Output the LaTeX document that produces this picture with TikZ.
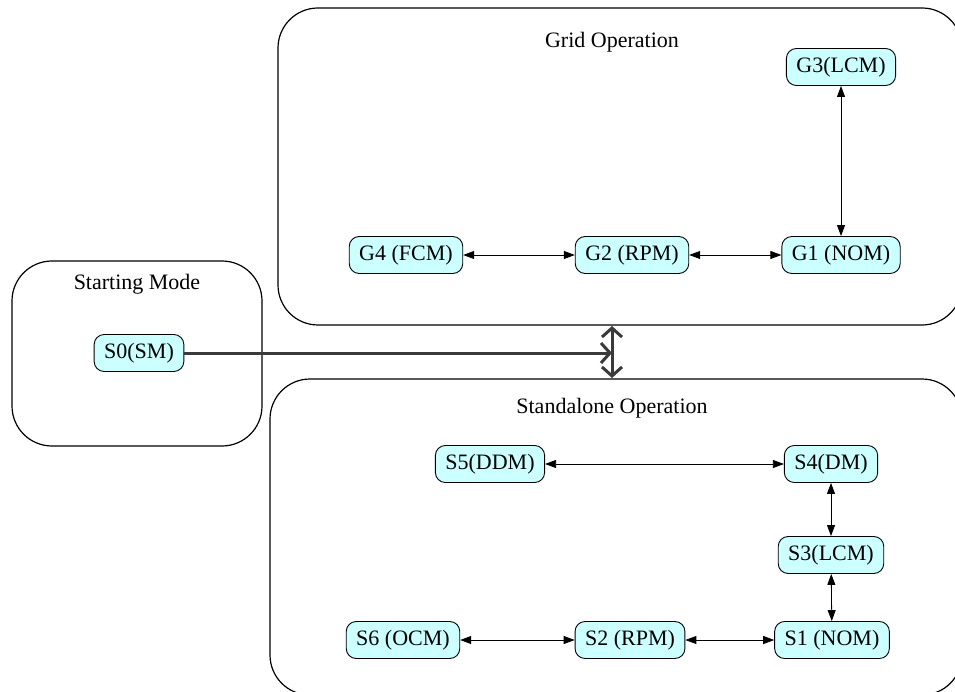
\documentclass[tikz,border=0pt]{standalone}
\usepackage{fontspec}
\setmainfont{Liberation Serif}
\usetikzlibrary{arrows.meta}
\definecolor{modefill}{RGB}{204,255,255}
\definecolor{linkgray}{RGB}{58,58,58}
\begin{document}
\begin{tikzpicture}[x=1pt,y=-1pt,
    cluster/.style={draw,line width=1.2pt,rounded corners=40},
    clustertitle/.style={font=\fontsize{22}{26}\selectfont},
    mode/.style={draw,line width=0.9pt,fill=modefill,rounded corners=10,inner xsep=10pt,minimum height=37pt,font=\fontsize{22}{26}\selectfont},
    link/.style={{Triangle[length=11pt,width=8pt]}-{Triangle[length=11pt,width=8pt]},line width=0.8pt},
    barb/.tip={Straight Barb[length=9pt,width=20pt,line width=3pt]},
    biglink/.style={linkgray,line width=3pt}]
  \clip (0,0) rectangle (955,692);
  \fill[white] (0,0) rectangle (955,692);
  % clusters
  \draw[cluster] (278,8) rectangle (962,325);
  \draw[cluster] (12,261) rectangle (262,446);
  \draw[cluster] (270,379) rectangle (962,695);
  \node[clustertitle] (gridtitle) at (612,42) {Grid Operation};
  \node[clustertitle] (starttitle) at (137,284) {Starting Mode};
  \node[clustertitle] (standtitle) at (612,408) {Standalone Operation};
  % grid modes
  \node[mode] (G3) at (841,67) {G3(LCM)};
  \node[mode] (G4) at (406,255) {G4 (FCM)};
  \node[mode] (G2) at (632,255) {G2 (RPM)};
  \node[mode] (G1) at (841,255) {G1 (NOM)};
  % starting mode
  \node[mode] (S0) at (139,353) {S0(SM)};
  % standalone modes
  \node[mode] (S5) at (490,464) {S5(DDM)};
  \node[mode] (S4) at (831,464) {S4(DM)};
  \node[mode] (S3) at (831,555) {S3(LCM)};
  \node[mode] (S6) at (403,640) {S6 (OCM)};
  \node[mode] (S2) at (630,640) {S2 (RPM)};
  \node[mode] (S1) at (832,640) {S1 (NOM)};
  \draw[link] (G4) -- (G2);
  \draw[link] (G2) -- (G1);
  \draw[link] (G1) -- (G3);
  \draw[link] (S5) -- (S4);
  \draw[link] (S4) -- (S3);
  \draw[link] (S3) -- (S1);
  \draw[link] (S6) -- (S2);
  \draw[link] (S2) -- (S1);
  % transfer between clusters
  \coordinate (hub) at (612,353);
  \coordinate (gridlink) at (612,326);
  \coordinate (standlink) at (612,378);
  \draw[biglink,-barb] (S0) -- (hub);
  \draw[biglink,barb-barb] (gridlink) -- (standlink);
\end{tikzpicture}
\end{document}
